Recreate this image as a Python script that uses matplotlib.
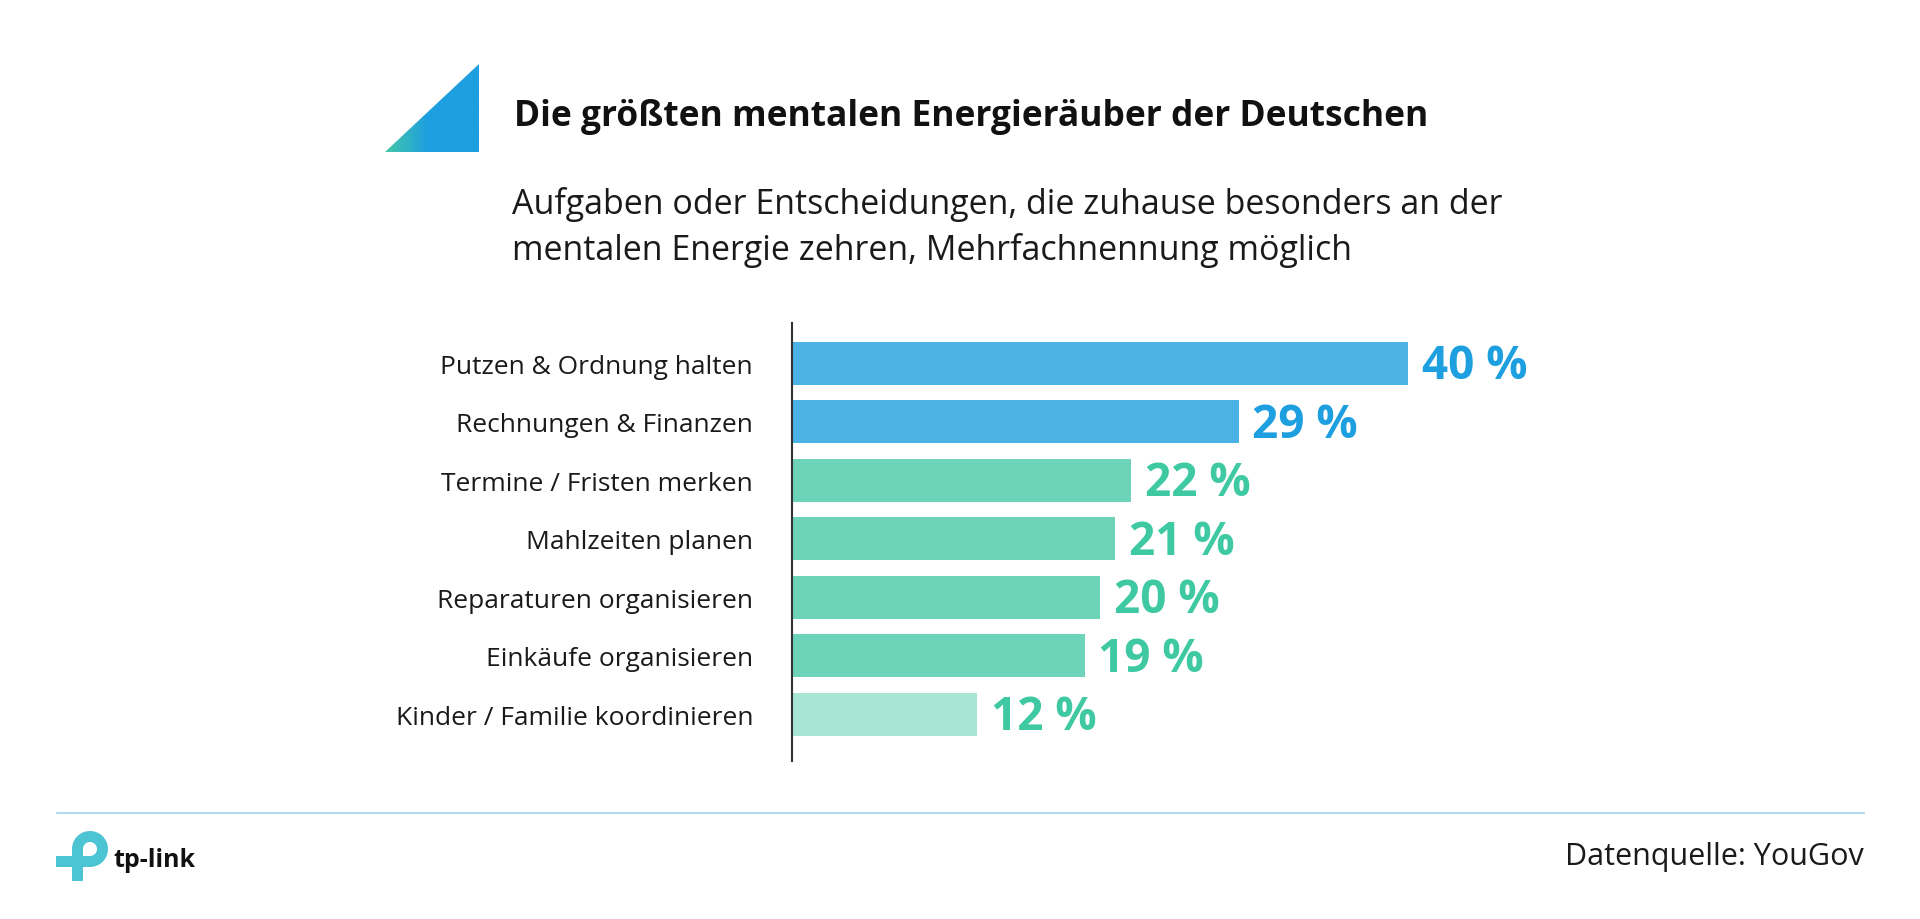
import matplotlib.pyplot as plt
import matplotlib.patches as mpatches
import numpy as np

categories = ["Putzen & Ordnung halten", "Rechnungen & Finanzen", "Termine / Fristen merken",
              "Mahlzeiten planen", "Reparaturen organisieren", "Einkäufe organisieren",
              "Kinder / Familie koordinieren"]
values = [40, 29, 22, 21, 20, 19, 12]
value_labels = ["40 %", "29 %", "22 %", "21 %", "20 %", "19 %", "12 %"]
bar_colors = ["#4bb2e6", "#4bb2e6", "#6dd3b9", "#6dd3b9", "#6dd3b9", "#6dd3b9", "#a8e5d5"]
text_colors = ["#1e9fe0", "#1e9fe0", "#3fc9a2", "#3fc9a2", "#3fc9a2", "#3fc9a2", "#3fc9a2"]

title = "Die größten mentalen Energieräuber der Deutschen"
subtitle_1 = "Aufgaben oder Entscheidungen, die zuhause besonders an der"
subtitle_2 = "mentalen Energie zehren, Mehrfachnennung möglich"
source = "Datenquelle: YouGov"

W, H = 1920, 920
plt.rcParams['font.family'] = ['Open Sans', 'DejaVu Sans']

fig = plt.figure(figsize=(W / 100, H / 100), dpi=100)
fig.patch.set_facecolor("white")

# background layer in pixel coordinates
deco = fig.add_axes([0, 0, 1, 1])
deco.set_xlim(0, W)
deco.set_ylim(H, 0)
deco.axis("off")

# gradient triangle
grad = np.linspace(0, 1, 256)
grad = np.clip(grad / 0.45, 0, 1)
c0 = np.array([0x45, 0xc8, 0xa8]) / 255
c1 = np.array([0x1e, 0x9f, 0xe0]) / 255
img = c0[None, None, :] * (1 - grad[None, :, None]) + c1[None, None, :] * grad[None, :, None]
img = np.repeat(img, 2, axis=0)
tri = mpatches.Polygon([[385, 153], [479, 65], [479, 153]], closed=True, facecolor="none", edgecolor="none")
deco.add_patch(tri)
im = deco.imshow(img, extent=[385, 479, 153, 65], aspect="auto", zorder=2)
im.set_clip_path(tri)

deco.text(514, 117, title, fontsize=25.5, fontweight="bold", color="#111111", va="center", ha="left")
deco.text(512, 204, subtitle_1, fontsize=24.5, color="#1a1a1a", va="center", ha="left")
deco.text(512, 251, subtitle_2, fontsize=24.5, color="#1a1a1a", va="center", ha="left")

# footer
deco.plot([57, 1864], [814, 814], color="#a8d8f0", lw=1.3)
deco.text(1864, 857, source, fontsize=22, color="#1a1a1a", va="center", ha="right")

# tp-link logo
logo_c = "#4cc4d4"
deco.add_patch(mpatches.Wedge((90, 850), 18, 180, 450, width=11, facecolor=logo_c, edgecolor="none"))
deco.add_patch(mpatches.Rectangle((72, 850), 11, 32, facecolor=logo_c, edgecolor="none"))
deco.add_patch(mpatches.Rectangle((56, 857), 34, 11, facecolor=logo_c, edgecolor="none"))
deco.text(113, 861, "tp-link", fontsize=18, fontweight="bold", color="#111111", va="center", ha="left")

# bar chart
ax = fig.add_axes([792 / W, (H - 762) / H, 770 / W, 438 / H])
ypos = np.arange(len(categories))
ax.barh(ypos, values, height=0.735, color=bar_colors, edgecolor="none")
ax.set_xlim(0, 50)
ax.set_ylim(6.80, -0.684)
ax.set_yticks(ypos)
ax.set_yticklabels(categories, fontsize=19, color="#1a1a1a")
ax.tick_params(axis="y", length=0, pad=28)
ax.set_xticks([])
for s in ["top", "right", "bottom"]:
    ax.spines[s].set_visible(False)
ax.spines["left"].set_color("#333333")
ax.spines["left"].set_linewidth(1.5)
ax.patch.set_alpha(0)

for y, v, lab, c in zip(ypos, values, value_labels, text_colors):
    ax.annotate(lab, (v, y), xytext=(10, -2), textcoords="offset points",
                fontsize=33, fontweight="bold", color=c, va="center", ha="left")

fig.savefig("out.png", dpi=100, facecolor="white")
